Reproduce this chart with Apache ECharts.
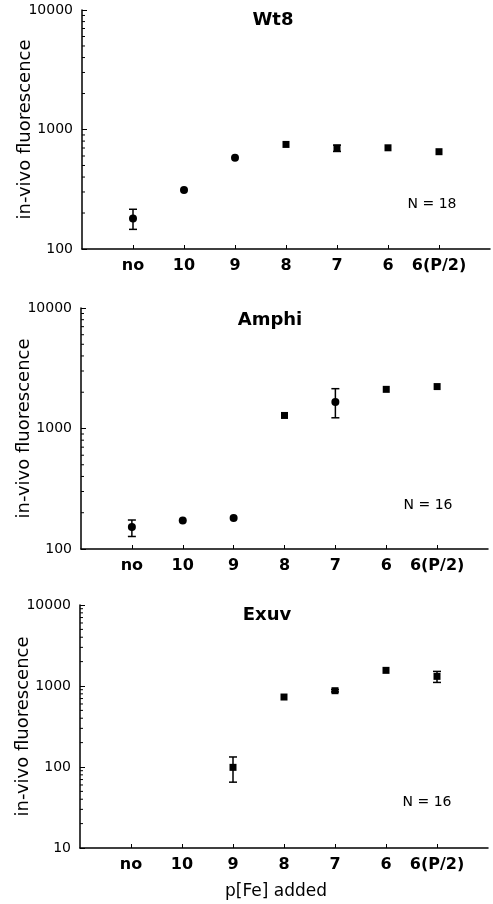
<!DOCTYPE html>
<html>
<head>
<meta charset="utf-8">
<script src="https://cdn.jsdelivr.net/npm/echarts@6/dist/echarts.min.js"></script>
<style>
html,body{margin:0;padding:0;background:#fff;}
#chart{width:493px;height:904px;}
</style>
</head>
<body>
<div id="chart"></div>
<script>
// ---- data ----
var categories = ['no', '10', '9', '8', '7', '6', '6(P/2)'];
var panelTitles = ['Wt8', 'Amphi', 'Exuv'];
var panelN = ['N = 18', 'N = 16', 'N = 16'];

var wt8Mean = [180, 312, 580, 750, 700, 703, 652];
var wt8Low  = [146, null, null, null, 655, null, null];
var wt8High = [215, null, null, null, 740, null, null];

var amphiMean = [152, 172, 181, 1283, 1656, 2113, 2228];
var amphiLow  = [127, null, null, null, 1227, null, null];
var amphiHigh = [174, null, null, null, 2140, null, null];

var exuvMean = [null, null, 99, 731, 875, 1560, 1315];
var exuvLow  = [null, null, 65, null, 845, null, 1107];
var exuvHigh = [null, null, 133, null, 905, null, 1514];

var yMins = [100, 100, 10];
var yMax = 10000;
var yAxisName = 'in-vivo fluorescence';
var xAxisName = 'p[Fe] added';

// ---- styles / layout ----
var FONT = 'DejaVu Sans';
var grids = [
  {left: 82, top: 10, width: 408, height: 239, outerBoundsMode: 'none', containLabel: false},
  {left: 81, top: 308, width: 407, height: 241, outerBoundsMode: 'none', containLabel: false},
  {left: 80, top: 605, width: 408, height: 243, outerBoundsMode: 'none', containLabel: false}
];
var shapes = [
  ['circle', 'circle', 'circle', 'rect', 'rect', 'rect', 'rect'],
  ['circle', 'circle', 'circle', 'rect', 'circle', 'rect', 'rect'],
  ['rect', 'rect', 'rect', 'rect', 'rect', 'rect', 'rect']
];
var titlePos = [[273, 20], [270, 320], [267, 615]];
var nPos = [[432, 204], [428, 505], [427, 802]];

var means = [wt8Mean, amphiMean, exuvMean];
var lows = [wt8Low, amphiLow, exuvLow];
var highs = [wt8High, amphiHigh, exuvHigh];

var axisData = [''].concat(categories).concat(['']);

var option = {
  animation: false,
  backgroundColor: '#fff',
  grid: grids,
  xAxis: [],
  yAxis: [],
  series: [],
  graphic: []
};

for (var p = 0; p < 3; p++) {
  option.xAxis.push({
    type: 'category',
    gridIndex: p,
    data: axisData,
    boundaryGap: false,
    axisLine: {lineStyle: {color: '#000', width: 1.5}},
    axisTick: {
      inside: true, length: 4, lineStyle: {color: '#000', width: 1},
      interval: function (i) { return i > 0 && i < axisData.length - 1; }
    },
    axisLabel: {
      interval: 0, color: '#000', fontFamily: FONT, fontWeight: 'bold',
      fontSize: 16, margin: 9
    },
    splitLine: {show: false},
    name: p === 2 ? xAxisName : '',
    nameLocation: 'middle',
    nameGap: 35,
    nameMoveOverlap: false,
    nameTextStyle: {color: '#000', fontFamily: FONT, fontSize: 17, padding: [0, 16, 0, 0]}
  });
  option.yAxis.push({
    type: 'log',
    logBase: 10,
    gridIndex: p,
    min: yMins[p],
    max: yMax,
    axisLine: {show: true, lineStyle: {color: '#000', width: 1.5}},
    axisTick: {show: true, inside: true, length: 5, lineStyle: {color: '#000', width: 1}},
    axisLabel: {color: '#000', fontFamily: FONT, fontSize: 14, margin: 9,
      formatter: function (v) { return String(Math.round(v)); }},
    splitLine: {show: false},
    name: yAxisName,
    nameLocation: 'middle',
    nameGap: 48,
    nameMoveOverlap: false,
    nameTextStyle: {color: '#000', fontFamily: FONT, fontSize: 18}
  });

  // minor log ticks (2..9 per decade), placed through the axis scale
  var minorVals = [];
  for (var d = yMins[p]; d < yMax; d *= 10) {
    for (var k = 2; k <= 9; k++) minorVals.push([0, d * k]);
  }
  option.series.push({
    type: 'custom',
    xAxisIndex: p, yAxisIndex: p,
    silent: true,
    data: minorVals,
    renderItem: function (params, api) {
      var pt = api.coord([api.value(0), api.value(1)]);
      return {
        type: 'line',
        shape: {x1: pt[0], y1: pt[1], x2: pt[0] + 3, y2: pt[1]},
        style: {stroke: '#000', lineWidth: 1}
      };
    }
  });

  // points
  var pts = [];
  for (var i = 0; i < categories.length; i++) {
    if (means[p][i] != null) {
      pts.push({value: [i + 1, means[p][i]], symbol: shapes[p][i],
        symbolSize: shapes[p][i] === 'circle' ? 8 : 7});
    }
  }
  option.series.push({
    type: 'scatter',
    xAxisIndex: p, yAxisIndex: p,
    data: pts,
    itemStyle: {color: '#000', opacity: 1},
    z: 5
  });

  // error bars
  var errs = [];
  for (var j = 0; j < categories.length; j++) {
    if (lows[p][j] != null && highs[p][j] != null) {
      errs.push([j + 1, lows[p][j], highs[p][j]]);
    }
  }
  option.series.push({
    type: 'custom',
    xAxisIndex: p, yAxisIndex: p,
    data: errs,
    z: 4,
    renderItem: function (params, api) {
      var lo = api.coord([api.value(0), api.value(1)]);
      var hi = api.coord([api.value(0), api.value(2)]);
      var w = 4;
      var st = {stroke: '#000', lineWidth: 1.5};
      return {
        type: 'group',
        children: [
          {type: 'line', shape: {x1: lo[0], y1: lo[1], x2: hi[0], y2: hi[1]}, style: st},
          {type: 'line', shape: {x1: lo[0] - w, y1: lo[1], x2: lo[0] + w, y2: lo[1]}, style: st},
          {type: 'line', shape: {x1: hi[0] - w, y1: hi[1], x2: hi[0] + w, y2: hi[1]}, style: st}
        ]
      };
    }
  });

  option.graphic.push({
    type: 'text', x: titlePos[p][0], y: titlePos[p][1],
    style: {text: panelTitles[p], fill: '#000', font: 'bold 18px "DejaVu Sans"',
      align: 'center', verticalAlign: 'middle'}
  });
  option.graphic.push({
    type: 'text', x: nPos[p][0], y: nPos[p][1],
    style: {text: panelN[p], fill: '#000', font: '14px "DejaVu Sans"',
      align: 'center', verticalAlign: 'middle'}
  });
}

var chart = echarts.init(document.getElementById('chart'), null, {renderer: 'canvas'});
chart.setOption(option);
</script>
</body>
</html>
